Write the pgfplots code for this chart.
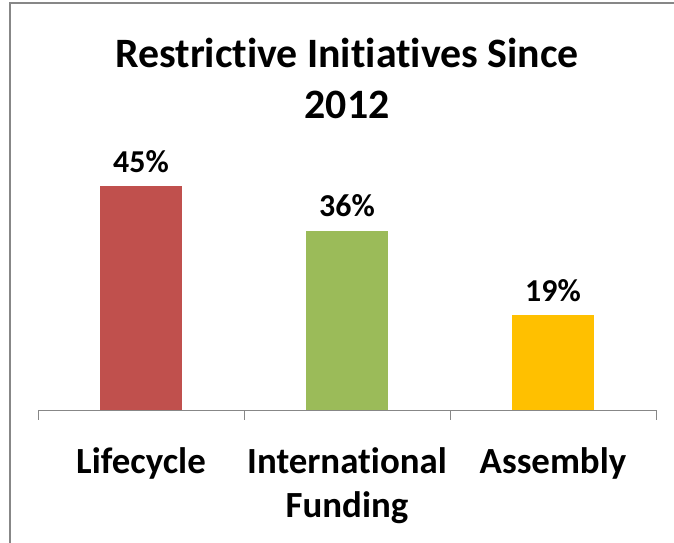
\documentclass[border=0pt]{standalone}
\usepackage{fontspec}
\setmainfont{Carlito}[Ligatures=NoCommon]
\usepackage{pgfplots}
\pgfplotsset{compat=1.18}

\definecolor{barred}{HTML}{C0504D}
\definecolor{bargreen}{HTML}{9BBB59}
\definecolor{bargold}{HTML}{FFC000}
\definecolor{axgray}{HTML}{878787}

\begin{document}
\begin{tikzpicture}
\path[use as bounding box] (0,0) rectangle (674bp,543bp);
\draw[axgray, line width=2bp] (9.5bp,0) -- (9.5bp,540bp) -- (674bp,540bp);
\node[anchor=base, align=center, font=\fontsize{42}{52}\selectfont\bfseries]
  at (347bp,424bp) {Restrictive Initiatives Since\\2012};
\begin{axis}[
  at={(38bp,133bp)}, anchor=south west,
  scale only axis, width=618bp, height=249bp,
  ybar, bar width=82bp, bar shift=0pt,
  xmin=-0.5, xmax=2.5, ymin=0, ymax=50,
  axis y line=none, axis x line*=bottom,
  x axis line style={axgray, line width=1bp, -},
  xtick={0,1,2},
  xticklabels={Lifecycle, {International\\Funding}, Assembly},
  major tick length=0pt,
  extra x ticks={-0.5,0.5,1.5,2.5},
  extra x tick labels={},
  extra x tick style={major tick length=10bp, tick align=outside, tick style={axgray, line width=1bp}},
  xticklabel style={align=center, font=\fontsize{37}{44}\selectfont\bfseries, yshift=-34bp},
  nodes near coords={\pgfmathprintnumber{\pgfplotspointmeta}\%},
  nodes near coords style={font=\fontsize{32}{38}\selectfont\bfseries, yshift=10bp},
  /pgf/number format/assume math mode=true,
  clip=false,
]
\addplot[fill=barred, draw=none] coordinates {(0,45)};
\addplot[fill=bargreen, draw=none] coordinates {(1,36)};
\addplot[fill=bargold, draw=none] coordinates {(2,19)};
\end{axis}
\end{tikzpicture}
\end{document}
